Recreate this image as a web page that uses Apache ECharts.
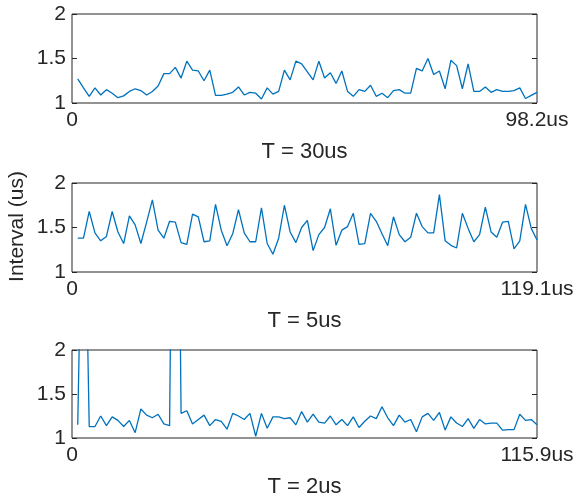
<!DOCTYPE html>
<html>
<head>
<meta charset="utf-8">
<script src="https://cdn.jsdelivr.net/npm/echarts@6/dist/echarts.min.js"></script>
<style>html,body{margin:0;padding:0;background:#fff}#c{width:578px;height:497px}</style>
</head>
<body>
<div id="c"></div>
<script>
const titles = ['T = 30us', 'T = 5us', 'T = 2us'];
const xMax = [98.2, 119.1, 115.9];
const yTicks = [1, 1.5, 2];
const yLabel = 'Interval (us)';

const s30 = [1.27,1.17,1.075,1.17,1.09,1.15,1.11,1.06,1.08,1.13,1.16,1.14,1.09,1.13,1.19,1.33,1.33,1.40,1.28,1.47,
  1.37,1.36,1.25,1.37,1.085,1.085,1.10,1.12,1.18,1.09,1.12,1.11,1.045,1.17,1.10,1.13,1.37,1.26,1.47,1.44,
  1.35,1.26,1.47,1.28,1.34,1.22,1.36,1.13,1.075,1.15,1.13,1.20,1.075,1.11,1.06,1.14,1.15,1.11,1.11,1.39,
  1.36,1.50,1.32,1.36,1.16,1.48,1.42,1.16,1.44,1.13,1.13,1.18,1.12,1.15,1.13,1.13,1.14,1.17,1.05,1.085,1.12];
const s5 = [1.38,1.38,1.68,1.44,1.35,1.40,1.68,1.45,1.32,1.63,1.53,1.32,1.56,1.81,1.47,1.38,1.57,1.56,1.33,1.31,
  1.65,1.62,1.34,1.35,1.76,1.47,1.295,1.43,1.70,1.44,1.34,1.34,1.72,1.32,1.20,1.38,1.75,1.45,1.33,1.50,
  1.58,1.24,1.42,1.50,1.71,1.30,1.47,1.51,1.66,1.31,1.32,1.66,1.57,1.43,1.295,1.62,1.42,1.34,1.39,1.66,
  1.51,1.44,1.44,1.87,1.35,1.30,1.27,1.66,1.49,1.34,1.42,1.73,1.45,1.39,1.56,1.57,1.26,1.35,1.76,1.49,1.36];
const s2 = [1.15,4.7,1.13,1.13,1.25,1.14,1.24,1.20,1.13,1.20,1.06,1.33,1.26,1.23,1.27,1.16,1.14,8.0,1.28,1.31,
  1.16,1.21,1.26,1.14,1.21,1.19,1.10,1.28,1.25,1.21,1.28,1.02,1.28,1.11,1.24,1.24,1.22,1.23,1.15,1.30,
  1.18,1.27,1.18,1.17,1.25,1.15,1.21,1.14,1.24,1.12,1.19,1.25,1.22,1.355,1.23,1.14,1.26,1.18,1.21,1.07,
  1.24,1.28,1.20,1.29,1.09,1.24,1.17,1.13,1.22,1.11,1.21,1.16,1.17,1.17,1.09,1.095,1.095,1.27,1.20,1.21,1.15];
const seriesData = [s30, s5, s2];

const FONT = 'Liberation Sans';
const TXT = '#262626';
const tops = [14, 183, 350];
const heights = [89, 89, 88];
const LEFT = 72, WIDTH = 465;

const grids = [], xAxes = [], yAxes = [], series = [], title = [];
seriesData.forEach((vals, k) => {
  grids.push({left: LEFT, top: tops[k], width: WIDTH, height: heights[k], show: true,
    containLabel: false, outerBoundsMode: 'none',
    borderColor: TXT, borderWidth: 1, backgroundColor: 'transparent'});
  const mx = xMax[k];
  xAxes.push({type: 'value', gridIndex: k, min: 0, max: mx, interval: mx,
    axisLine: {show: false}, axisTick: {show: false}, splitLine: {show: false},
    axisLabel: {show: false}});
  const yBase = {type: 'value', gridIndex: k, min: yTicks[0], max: yTicks[yTicks.length - 1], interval: 0.5,
    axisLine: {show: false}, splitLine: {show: false},
    axisTick: {show: true, inside: true, length: 5, lineStyle: {color: TXT}}};
  yAxes.push(Object.assign({}, yBase, {position: 'left',
    axisLabel: {color: TXT, fontFamily: FONT, fontSize: 21, margin: 6, formatter: v => String(v)}}));
  yAxes.push(Object.assign({}, yBase, {position: 'right', axisLabel: {show: false}}));
  const n = vals.length;
  series.push({type: 'line', xAxisIndex: k, yAxisIndex: 2 * k, showSymbol: false, clip: true,
    lineStyle: {color: '#0072BD', width: 1.3}, itemStyle: {color: '#0072BD'},
    data: vals.map((v, i) => [(i + 1) * mx / n, v])});
  title.push({text: titles[k], left: LEFT + WIDTH / 2, top: tops[k] + heights[k] + 38, textAlign: 'center',
    padding: 0, textStyle: {color: TXT, fontFamily: FONT, fontSize: 22, fontWeight: 'normal'}});
});

const chart = echarts.init(document.getElementById('c'), null, {renderer: 'canvas'});
chart.setOption({animation: false, title, grid: grids, xAxis: xAxes, yAxis: yAxes, series});

// x tick labels and y-axis name placed through the axes' own scales
const graphic = [];
xMax.forEach((mx, k) => {
  [[0, '0'], [mx, mx + 'us']].forEach(([v, txt]) => {
    const p = chart.convertToPixel({xAxisIndex: k, yAxisIndex: 2 * k}, [v, yTicks[0]]);
    graphic.push({type: 'text', x: p[0], y: p[1] + 7, silent: true,
      style: {text: txt, fill: TXT, font: '21px "' + FONT + '"', textAlign: 'center', textVerticalAlign: 'top'}});
  });
});
const mid = chart.convertToPixel({xAxisIndex: 1, yAxisIndex: 2}, [0, (yTicks[0] + yTicks[2]) / 2]);
graphic.push({type: 'text', x: mid[0] - 55, y: mid[1] - 1, rotation: Math.PI / 2, silent: true,
  style: {text: yLabel, fill: TXT, font: '21px "' + FONT + '"', textAlign: 'center', textVerticalAlign: 'middle'}});
chart.setOption({graphic});
</script>
</body>
</html>
